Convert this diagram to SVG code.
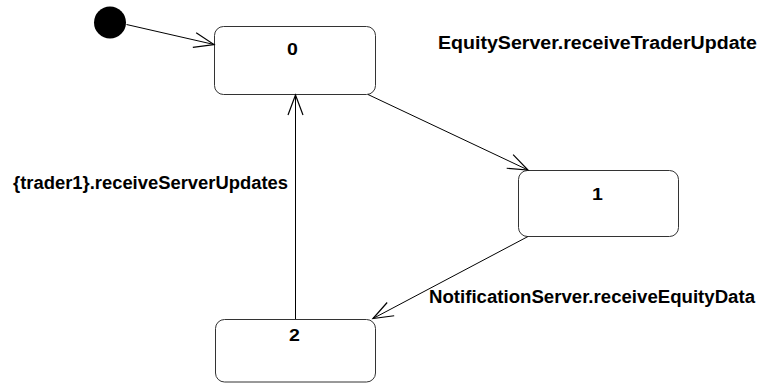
<svg xmlns="http://www.w3.org/2000/svg" width="766" height="383" viewBox="0 0 766 383">
<style>
.state{fill:#fff;stroke:#333;stroke-width:1}
.name{font-family:"Liberation Sans",Arial,sans-serif;font-weight:bold;font-size:17px;fill:#000;text-anchor:middle}
.lbl{font-family:"Liberation Sans",Arial,sans-serif;font-weight:bold;font-size:18px;fill:#000}
.edge{fill:none;stroke:#000;stroke-width:1;marker-end:url(#open)}
</style>
<defs>
<marker id="open" markerUnits="userSpaceOnUse" markerWidth="30" markerHeight="30" viewBox="-25 -15 30 30" refX="0" refY="0" orient="auto">
<path d="M-20,-7.5 L0,0 L-20,7.5" fill="none" stroke="#000" stroke-width="1.2"/>
</marker>
</defs>
<rect width="766" height="383" fill="#fff"/>
<g id="initial"><circle cx="110" cy="22.5" r="16" fill="#000"/></g>
<g id="s0"><rect class="state" x="214.5" y="26.5" width="161" height="68" rx="9"/><text class="name" transform="translate(292.5,55) scale(1.15,1)">0</text></g>
<g id="s1"><rect class="state" x="518.5" y="170.5" width="160" height="66" rx="9"/><text class="name" transform="translate(597.5,200) scale(1.15,1)">1</text></g>
<g id="s2"><rect class="state" x="215.5" y="319.5" width="160" height="62.5" rx="9"/><text class="name" transform="translate(294.5,341) scale(1.15,1)">2</text></g>
<g id="connectors">
<line class="edge" x1="126.5" y1="24.5" x2="214" y2="44.5"/>
<line class="edge" x1="368" y1="94.5" x2="528" y2="170"/>
<line class="edge" x1="528" y1="236.5" x2="373" y2="318.5"/>
<line class="edge" x1="295.5" y1="319" x2="295.5" y2="95"/>
</g>
<g id="labels">
<text class="lbl" x="438" y="49" textLength="319" lengthAdjust="spacingAndGlyphs">EquityServer.receiveTraderUpdate</text>
<text class="lbl" x="13" y="189" textLength="275" lengthAdjust="spacingAndGlyphs">{trader1}.receiveServerUpdates</text>
<text class="lbl" x="429" y="303" textLength="326" lengthAdjust="spacingAndGlyphs">NotificationServer.receiveEquityData</text>
</g>
</svg>
